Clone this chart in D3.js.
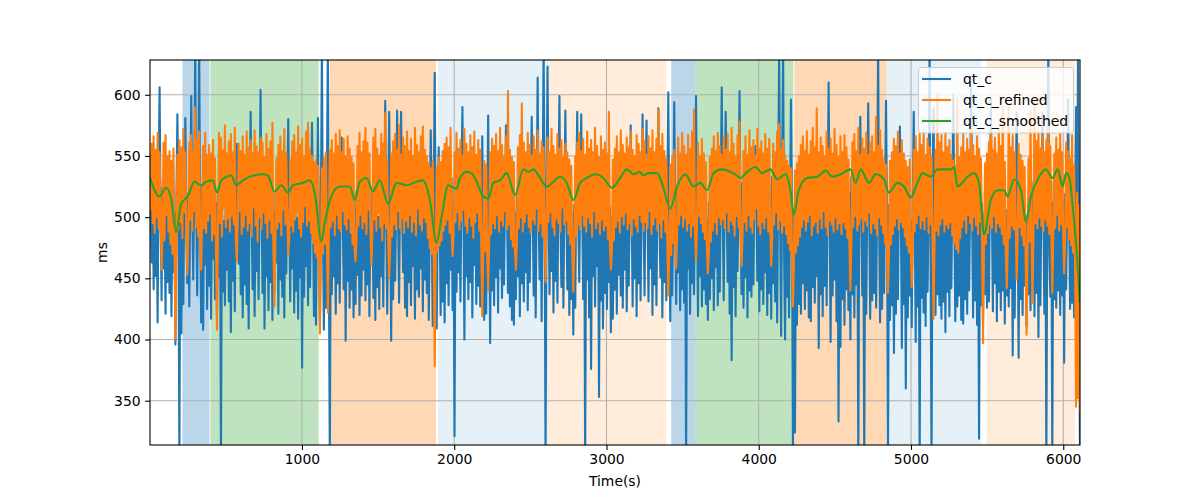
<!DOCTYPE html>
<html><head><meta charset="utf-8">
<script src="https://cdn.jsdelivr.net/npm/d3@7"></script>
<style>body{margin:0;background:#fff;} text{font-family:"DejaVu Sans",sans-serif;}</style>
</head><body><svg id="chart" width="1200" height="500"></svg>
<script>
// sampling interval (seconds) of the two raw series
const sampleStep = 6.5;

const qtC = [
505,518,463,527,441,509,452,521,414,530,606,505,432,524,458,498,421,532,447,511,
438,526,419,512,455,503,396,517,584,508,300,522,405,514,429,531,581,500,446,519,
427,515,599,506,449,528,640,511,436,520,640,498,414,525,408,513,461,533,425,507,
444,521,417,503,466,529,433,512,420,518,451,535,300,509,439,497,428,524,457,514,
431,526,406,516,448,501,423,530,560,508,462,519,437,527,418,511,445,534,429,505,
409,522,586,499,441,531,419,513,456,525,433,507,604,518,438,529,409,502,452,523,
424,510,447,533,416,519,438,504,463,527,421,515,449,498,435,530,418,512,454,521,
580,505,431,526,458,514,422,532,440,499,417,521,451,510,377,528,435,516,460,503,
428,524,443,509,577,497,419,518,412,505,581,494,415,512,640,490,408,501,426,520,
640,470,300,515,437,527,452,508,421,531,446,519,430,523,565,502,441,529,399,511,
448,525,426,513,441,497,418,506,429,521,453,514,420,532,436,509,457,524,432,517,
445,530,419,505,462,522,434,511,416,528,443,500,425,534,452,516,427,521,595,498,
421,508,586,502,399,519,433,527,448,510,587,496,430,523,586,512,455,531,426,507,
419,520,447,533,428,514,460,525,417,506,441,529,435,518,458,503,423,527,449,531,
438,513,416,504,571,495,411,516,618,489,409,508,557,497,420,512,431,503,414,519,
446,527,428,511,457,532,424,507,321,520,439,528,455,514,431,533,590,501,400,522,
452,519,433,526,447,536,418,510,461,524,429,517,444,530,427,505,566,498,416,509,
421,503,583,495,397,512,440,521,428,531,451,516,422,527,458,508,434,534,445,513,
575,511,438,525,427,516,416,522,412,504,433,519,452,528,419,536,446,510,431,525,
455,532,424,514,447,520,582,506,436,529,418,517,614,501,449,527,415,510,640,512,
300,521,623,505,437,528,456,513,422,533,448,509,430,524,599,498,443,530,426,518,
587,507,441,527,420,515,433,502,404,510,426,526,586,504,447,519,584,511,433,525,
300,515,449,531,418,522,376,509,452,534,427,518,460,525,353,513,432,529,409,506,
438,523,425,514,447,508,406,498,417,512,441,527,421,533,453,516,436,524,426,511,
457,530,423,518,444,509,575,504,427,526,450,514,419,535,446,522,432,507,584,499,
436,524,579,510,431,521,458,533,420,506,445,528,428,517,589,501,451,525,418,515,
447,531,432,512,602,497,415,509,436,503,594,500,429,522,455,516,424,530,441,519,
430,527,300,514,458,533,421,508,446,525,437,518,599,505,419,529,452,511,427,522,
441,506,429,498,416,512,433,519,450,527,424,508,459,534,428,516,439,525,606,503,
432,520,586,509,447,530,421,514,383,526,443,533,419,510,456,524,603,500,437,528,
426,517,451,532,418,510,440,527,435,506,445,529,558,512,448,521,423,534,441,515,
429,524,455,511,420,530,438,519,417,533,446,508,431,526,414,520,640,505,403,527,
640,470,400,516,435,504,418,513,596,497,300,506,324,500,412,509,429,498,421,515,
446,522,425,531,440,512,418,526,415,517,443,533,430,510,452,525,393,514,437,529,
419,513,444,527,428,518,610,502,398,530,436,512,449,524,415,532,333,508,394,521,
433,529,412,514,441,525,424,519,400,533,437,508,418,527,445,516,300,521,582,506,
436,520,300,530,421,511,593,503,417,526,432,518,438,531,426,509,640,500,414,523,
425,532,438,514,595,500,300,510,416,504,428,522,389,512,421,529,433,511,574,505,
393,523,429,510,360,527,418,503,436,497,410,512,586,500,398,521,427,508,300,519,
434,530,422,517,411,526,439,508,640,470,300,521,589,502,420,528,437,513,428,531,
417,510,431,525,406,518,439,532,419,506,442,520,600,499,415,509,427,503,436,522,
416,519,413,531,433,508,421,526,440,512,605,501,418,520,432,529,412,507,319,524,
428,511,419,503,437,515,426,509,431,521,596,504,423,526,446,517,415,533,439,512,
424,528,440,510,413,506,436,499,427,520,442,515,387,527,418,512,585,496,385,523,
433,531,420,508,444,502,411,497,437,514,424,529,441,517,419,522,438,530,402,511,
428,520,585,506,421,527,300,515,640,470,435,529,300,512,433,524,426,533,440,510,
420,527,436,514,381,519,441,506,596,501,425,523,430,509,418,503,590,497,640,470,
300
];

const qtCRefined = [
552,506,560,495,566,487,555,500,569,491,553,509,457,493,561,481,567,502,550,488,
554,478,546,470,556,484,400,474,551,490,563,496,557,483,572,504,553,491,453,486,
561,498,567,489,554,505,590,492,563,484,570,478,457,500,558,491,569,487,551,497,
559,503,552,481,563,486,548,473,408,489,569,495,565,484,555,507,575,492,552,499,
562,488,568,501,553,494,573,482,464,496,560,505,554,486,566,492,551,502,570,489,
557,495,563,484,552,508,571,493,558,480,553,500,565,490,561,504,549,495,568,483,
556,498,562,487,577,475,427,481,548,491,559,496,566,485,554,506,572,494,552,501,
470,483,547,493,562,488,567,498,553,504,574,491,559,484,564,496,550,509,570,493,
577,497,556,487,550,479,545,471,547,467,542,475,405,465,540,470,548,478,553,486,
422,481,555,492,563,497,552,485,568,502,558,491,571,488,553,505,564,494,550,490,
566,499,556,487,549,478,544,473,464,483,558,493,569,502,553,491,562,496,573,486,
561,506,552,492,461,486,565,498,572,489,556,503,550,492,568,481,560,495,585,491,
546,479,451,475,552,484,562,494,568,490,555,505,575,491,551,499,565,487,558,497,
570,492,554,502,564,488,550,496,573,485,559,507,553,494,566,489,574,500,555,496,
550,483,544,475,540,470,546,465,378,468,541,472,549,477,545,481,554,489,560,494,
565,498,557,487,573,491,468,485,553,496,569,504,556,490,563,497,550,506,572,493,
560,487,553,500,567,493,557,483,570,496,551,504,563,489,555,480,419,474,546,472,
543,469,440,477,553,486,564,495,558,491,568,502,554,488,573,497,559,493,550,505,
566,490,603,494,555,482,549,476,545,473,457,479,557,491,567,500,593,488,561,496,
553,503,569,492,559,487,550,498,566,494,555,507,571,489,552,495,562,484,557,501,
447,490,565,496,553,504,572,492,558,485,551,499,568,495,556,488,563,508,549,494,
560,497,553,486,547,478,542,471,439,475,550,484,561,494,569,490,554,502,564,493,
551,488,570,500,556,495,563,484,553,505,573,491,558,496,549,486,566,498,555,489,
561,493,552,482,586,477,457,473,547,481,556,492,566,497,553,487,571,501,559,494,
552,504,565,490,557,495,570,485,555,499,550,493,567,488,560,502,553,496,572,489,
562,496,551,491,566,505,556,486,571,494,553,500,564,489,588,495,558,483,568,498,
554,488,548,480,436,474,543,469,549,479,555,485,458,490,565,494,552,502,569,492,
558,499,551,489,567,495,556,484,570,493,588,487,465,491,561,501,550,495,564,488,
552,482,545,475,454,471,549,480,556,489,566,496,554,486,569,500,558,494,551,498,
565,491,555,504,568,488,553,497,573,494,560,485,550,501,567,492,578,487,460,483,
554,496,566,489,551,502,571,492,557,487,563,498,550,507,572,493,556,486,562,496,
552,491,568,500,556,488,564,495,460,484,560,494,553,504,570,490,576,497,555,487,
563,493,551,486,546,479,542,473,540,468,427,466,538,471,544,477,550,484,559,492,
566,498,554,489,570,496,551,502,562,485,573,493,557,496,589,487,553,499,565,491,
558,505,550,492,570,485,556,497,564,494,552,488,572,500,559,490,549,495,566,486,
553,496,567,491,557,483,547,477,440,481,561,492,568,501,554,489,573,494,551,499,
564,488,556,497,569,493,551,504,561,487,566,495,553,491,582,485,558,500,571,494,
555,487,548,479,543,473,438,470,546,478,553,486,564,493,558,499,570,490,552,496,
563,492,552,484,546,477,541,471,547,475,443,479,555,488,566,495,553,502,568,491,
559,497,572,490,551,501,564,487,557,494,549,482,417,477,555,489,601,485,561,494,
567,499,553,488,569,494,557,491,563,496,551,485,546,479,542,474,597,471,549,483,
557,492,568,498,553,487,564,502,555,495,573,489,559,500,550,493,566,486,556,496,
548,480,397,473,544,478,552,487,561,494,568,491,555,501,565,488,552,495,571,492,
558,486,590,478,545,471,442,475,590,483,557,493,567,490,553,497,449,481,560,492,
551,485,546,477,541,472,404,469,548,480,586,484,430,489,595,495,562,491,570,500,
556,493,567,488,553,498,563,493,573,486,558,496,438,484,552,491,565,502,555,489,
568,494,553,487,454,483,561,492,554,482,548,477,567,471,543,467,345,520,352,510,
340
];

const smoothedTime = [0,64,108,141,174,207,250,294,338,371,414,443,470,536,568,612,656,743,776,820,864,908,941,1007,1051,1084,1128,1149,1193,1248,1314,1347,1380,1424,1467,1511,1566,1621,1687,1753,1796,1840,1884,1917,1961,2016,2038,2082,2114,2136,2191,2224,2257,2301,2345,2399,2454,2487,2520,2564,2608,2651,2695,2739,2783,2827,2871,2926,2980,3036,3090,3134,3178,3217,3243,3276,3332,3364,3419,3463,3518,3572,3616,3661,3704,3759,3814,3847,3880,3924,3978,4022,4077,4121,4176,4208,4230,4263,4318,4384,4439,4483,4537,4603,4636,4669,4724,4768,4822,4855,4911,4954,4998,5042,5075,5130,5174,5261,5283,5305,5371,5414,5447,5480,5524,5568,5612,5634,5678,5722,5755,5788,5842,5886,5930,5963,5996,6018,6039,6062,6084,6110];
const smoothedValue = [533,517,524,515,488,511,517,529,526,529,530,520,530,534,526,530,533,535,534,521,526,520,526,528,530,520,480,495,517,525,525,514,529,532,521,530,511,528,526,529,530,514,479,500,526,523,532,537,536,532,517,515,528,530,536,518,539,537,539,532,525,529,533,528,514,528,532,535,532,524,532,539,535,537,534,536,536,528,507,525,535,525,528,522,536,539,537,535,532,537,541,536,539,531,535,522,502,522,532,533,538,533,535,539,528,539,528,535,531,520,528,525,516,528,536,533,539,539,541,525,533,536,528,486,514,522,522,517,531,522,496,517,533,539,532,539,525,536,533,509,479,430];

// background stage intervals (seconds)
const spanStart = [215, 399, 1182, 1893, 2616, 3425, 3583, 4234, 4839, 5497];
const spanEnd   = [393, 1110, 1880, 2616, 3393, 3583, 4227, 4839, 5458, 6076];
const spanStage = ['A','B','C','D','E','A','B','C','D','E'];

const xTicks = [1000, 2000, 3000, 4000, 5000, 6000];
const yTicks = [350, 400, 450, 500, 550, 600];
const seriesNames = ['qt_c', 'qt_c_refined', 'qt_c_smoothed'];

// ---- styles ----
const stageStyle = {
  A: {color: '#1f77b4', alpha: 0.3},
  B: {color: '#2ca02c', alpha: 0.3},
  C: {color: '#ff7f0e', alpha: 0.3},
  D: {color: '#1f77b4', alpha: 0.11},
  E: {color: '#ff7f0e', alpha: 0.15}
};
const seriesColor = ['#1f77b4', '#ff7f0e', '#2ca02c'];

const m = {left: 150, right: 1080, top: 60, bottom: 445};
const svg = d3.select('#chart');

const x = d3.scaleLinear().domain([2, 6110]).range([m.left, m.right]);
const y = d3.scaleLinear().domain([313.8, 628.4]).range([m.bottom, m.top]);

svg.append('defs').append('clipPath').attr('id', 'clip')
  .append('rect').attr('x', m.left).attr('y', m.top)
  .attr('width', m.right - m.left).attr('height', m.bottom - m.top);

const plot = svg.append('g').attr('clip-path', 'url(#clip)');

// spans
plot.selectAll('rect.span').data(spanStart.map((s, i) => ({s, e: spanEnd[i], k: spanStage[i]})))
  .enter().append('rect').attr('class', 'span')
  .attr('x', d => x(d.s)).attr('width', d => x(d.e) - x(d.s))
  .attr('y', m.top).attr('height', m.bottom - m.top)
  .attr('fill', d => stageStyle[d.k].color)
  .attr('fill-opacity', d => stageStyle[d.k].alpha);

// grid
const gridG = plot.append('g');
gridG.selectAll('line.gx').data(xTicks).enter().append('line')
  .attr('x1', d => x(d)).attr('x2', d => x(d)).attr('y1', m.top).attr('y2', m.bottom)
  .attr('stroke', '#b0b0b0').attr('stroke-width', 1.1);
gridG.selectAll('line.gy').data(yTicks).enter().append('line')
  .attr('y1', d => y(d)).attr('y2', d => y(d)).attr('x1', m.left).attr('x2', m.right)
  .attr('stroke', '#b0b0b0').attr('stroke-width', 1.1);

// lines
const rawLine = d3.line().x((d, i) => x(i * sampleStep)).y(d => y(d));
const smLine = d3.line().x((d, i) => x(smoothedTime[i])).y(d => y(d)).curve(d3.curveMonotoneX);

[qtC, qtCRefined].forEach((arr, k) => {
  plot.append('path').datum(arr).attr('d', rawLine)
    .attr('fill', 'none').attr('stroke', seriesColor[k]).attr('stroke-width', 2.1)
    .attr('stroke-linejoin', 'round');
});
plot.append('path').datum(smoothedValue).attr('d', smLine)
  .attr('fill', 'none').attr('stroke', seriesColor[2]).attr('stroke-width', 2.1)
  .attr('stroke-linejoin', 'round');

// axes
const fs = '13.9px';
const xAxis = svg.append('g').attr('transform', `translate(0,${m.bottom})`)
  .call(d3.axisBottom(x).tickValues(xTicks).tickFormat(d3.format('d')).tickSize(4.9).tickPadding(4.5));
const yAxis = svg.append('g').attr('transform', `translate(${m.left},0)`)
  .call(d3.axisLeft(y).tickValues(yTicks).tickFormat(d3.format('d')).tickSize(4.9).tickPadding(4.5));
[xAxis, yAxis].forEach(g => {
  g.select('.domain').remove();
  g.selectAll('.tick line').attr('stroke', '#000').attr('stroke-width', 1.1);
  g.selectAll('.tick text').attr('fill', '#000').style('font-size', fs)
    .style('font-family', '"DejaVu Sans", sans-serif');
});

// frame
svg.append('rect').attr('x', m.left).attr('y', m.top)
  .attr('width', m.right - m.left).attr('height', m.bottom - m.top)
  .attr('fill', 'none').attr('stroke', '#000').attr('stroke-width', 1.1);

// axis labels
svg.append('text').attr('x', (m.left + m.right) / 2).attr('y', 486)
  .attr('text-anchor', 'middle').style('font-size', fs).text('Time(s)');
svg.append('text').attr('transform', `translate(107,${(m.top + m.bottom) / 2}) rotate(-90)`)
  .attr('text-anchor', 'middle').style('font-size', fs).text('ms');

// legend
const lg = svg.append('g');
lg.append('rect').attr('x', 918.5).attr('y', 67.5).attr('width', 155).attr('height', 65.5)
  .attr('rx', 3).attr('fill', '#fff').attr('fill-opacity', 0.8)
  .attr('stroke', '#cccccc').attr('stroke-width', 1);
seriesNames.forEach((n, i) => {
  const yy = 79 + i * 21;
  lg.append('line').attr('x1', 922).attr('x2', 951).attr('y1', yy).attr('y2', yy)
    .attr('stroke', seriesColor[i]).attr('stroke-width', 2.1);
  lg.append('text').attr('x', 963).attr('y', yy).attr('dy', '0.35em')
    .style('font-size', fs).text(n);
});
</script>
</body></html>
